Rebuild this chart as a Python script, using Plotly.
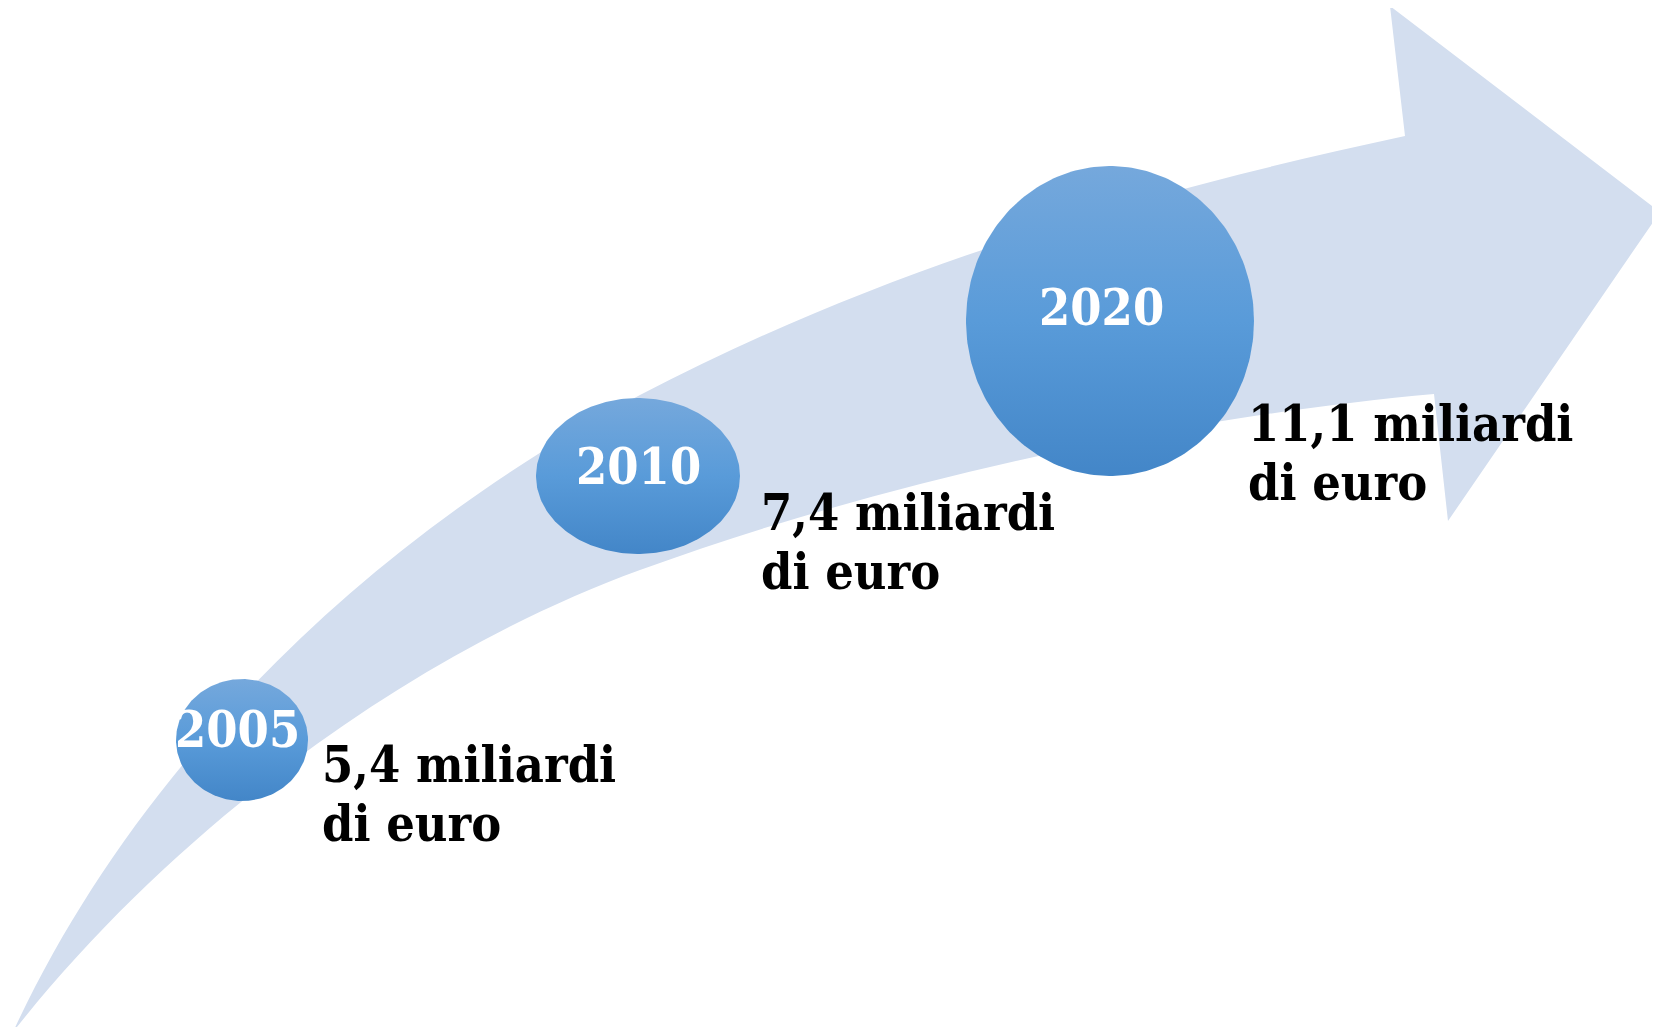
import numpy as np
import plotly.graph_objects as go

# data
years = ["2005", "2010", "2020"]
values = ["5,4", "7,4", "11,1"]
unit_line1 = "miliardi"
unit_line2 = "di euro"

W, H = 1660, 1035
PAD = 8  # default page body margin, compensated so canvas coords = window px

# bubble geometry (pixel space of the window)
centers = [(242, 740), (638, 476), (1110, 321)]
radii = [(66, 61), (102, 78), (144, 155)]
year_pos = [(237, 729), (638, 466), (1101, 307)]
label_pos = [(320, 796), (759, 544), (1246, 455)]
line_gap = 59

SERIF = "DejaVu Serif Condensed, DejaVu Serif, serif"

arrow_path = (
    "M 13,1032 C 120,800 330,560 640,395 C 880,270 1130,195 1405,136 "
    "L 1390,6 L 1660,212 L 1448,521 L 1434,394 "
    "C 1200,415 900,475 640,570 C 420,650 180,820 13,1032 Z"
)

fig = go.Figure()

theta = np.linspace(0, 2 * np.pi, 240)
for (cx, cy), (rx, ry) in zip(centers, radii):
    fig.add_trace(go.Scatter(
        x=cx + rx * np.cos(theta),
        y=cy + ry * np.sin(theta),
        mode="lines",
        line=dict(width=0, color="rgba(0,0,0,0)"),
        fill="toself",
        fillgradient=dict(
            type="vertical",
            colorscale=[[0, "#4386c8"], [0.5, "#599bd9"], [1, "#75a8dc"]],
        ),
        hoverinfo="skip",
        showlegend=False,
    ))

annotations = []
for yr, (x, y) in zip(years, year_pos):
    annotations.append(dict(
        x=x, y=y, text=f"<b>{yr}</b>", showarrow=False,
        xanchor="center", yanchor="middle",
        font=dict(family=SERIF, size=50, color="white"),
    ))

for val, (x, y) in zip(values, label_pos):
    for i, line in enumerate([f"{val} {unit_line1}", unit_line2]):
        annotations.append(dict(
            x=x, y=y + i * line_gap, text=f"<b>{line}</b>", showarrow=False,
            xanchor="left", yanchor="bottom",
            font=dict(family=SERIF, size=50, color="black"),
        ))

# keep the page from overflowing the window (no scrollbars)
fig.update_layout(
    width=W - 2 * PAD,
    height=H - 2 * PAD,
    margin=dict(l=0, r=0, t=0, b=0),
    plot_bgcolor="white",
    paper_bgcolor="white",
    xaxis=dict(range=[PAD, W - PAD], visible=False, fixedrange=True),
    yaxis=dict(range=[H - PAD, PAD], visible=False, fixedrange=True),
    shapes=[dict(
        type="path", path=arrow_path, xref="x", yref="y",
        fillcolor="#d3deef", line=dict(width=0), layer="below",
    )],
    annotations=annotations,
    showlegend=False,
)

fig.write_html("out.html")
